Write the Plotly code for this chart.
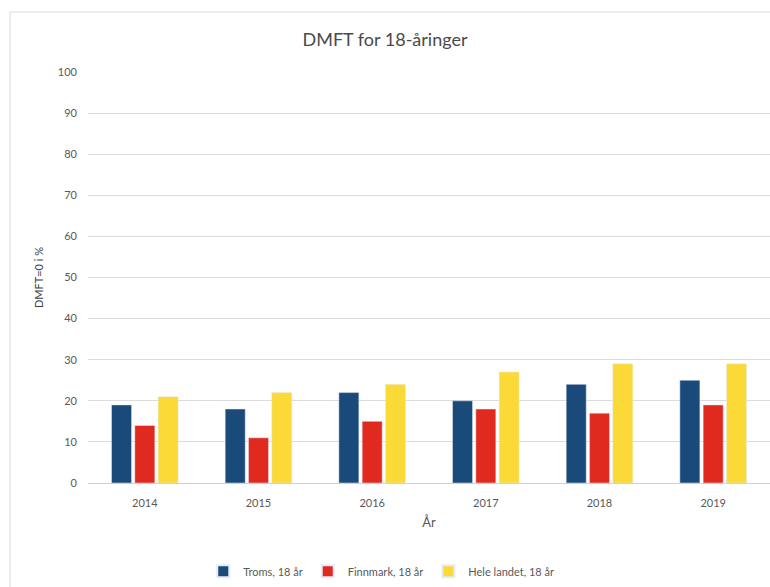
import plotly.graph_objects as go

years = ["2014", "2015", "2016", "2017", "2018", "2019"]
troms = [19, 18, 22, 20, 24, 25]
finnmark = [14, 11, 15, 18, 17, 19]
hele_landet = [21, 22, 24, 27, 29, 29]
y_ticks = list(range(0, 101, 10))

FONT = "Lato, 'Open Sans', sans-serif"
GREY = "#595959"

fig = go.Figure()
fig.add_bar(x=years, y=troms, name="Troms, 18 år", marker_color="#1a4a7a")
fig.add_bar(x=years, y=finnmark, name="Finnmark, 18 år", marker_color="#e02a1f")
fig.add_bar(x=years, y=hele_landet, name="Hele landet, 18 år", marker_color="#fbd936")

fig.update_layout(
    width=770, height=587,
    margin=dict(l=88, r=0, t=72, b=104, autoexpand=False),
    paper_bgcolor="white", plot_bgcolor="white",
    barmode="group", bargap=0.385, bargroupgap=0.14,
    font=dict(family=FONT, color=GREY, size=11),
    title=dict(text="DMFT for 18-åringer", x=0.5, xref="container", y=1 - 40/587, yanchor="middle",
               xanchor="center", automargin=False,
               font=dict(size=18, color="#4a4a4a", family=FONT)),
    showlegend=True,
    legend=dict(orientation="h", x=0.43, xanchor="center", xref="paper", y=-0.215, yanchor="middle",
                font=dict(size=11, color=GREY), traceorder="normal",
                itemsizing="constant"),
    xaxis=dict(title=dict(text="År", font=dict(size=13, color=GREY), standoff=9),
               automargin=False, ticklabelstandoff=10,
               showgrid=False, showline=True, linecolor="#d0d0d0", linewidth=1,
               ticks="", tickfont=dict(size=11, color=GREY)),
    yaxis=dict(title=dict(text="DMFT=0 i %", font=dict(size=11, color="#404040"), standoff=12),
               automargin=False,
               range=[0, 100], tickvals=y_ticks, showgrid=True, gridcolor="#dcdcdc",
               gridwidth=1, zeroline=False, showline=False, ticks="",
               ticklabelstandoff=10, tickfont=dict(size=11, color=GREY)),
    shapes=[dict(type="rect", xref="paper", yref="paper",
                 x0=(10 - 88) / 682, x1=1.2, y0=-0.6, y1=(483 - 12) / 411,
                 line=dict(color="#d9d9d9", width=1), fillcolor="rgba(0,0,0,0)", layer="below")],
)

fig.write_html("out.html", config={"displayModeBar": False},
               post_script="document.body.style.margin='0';")
